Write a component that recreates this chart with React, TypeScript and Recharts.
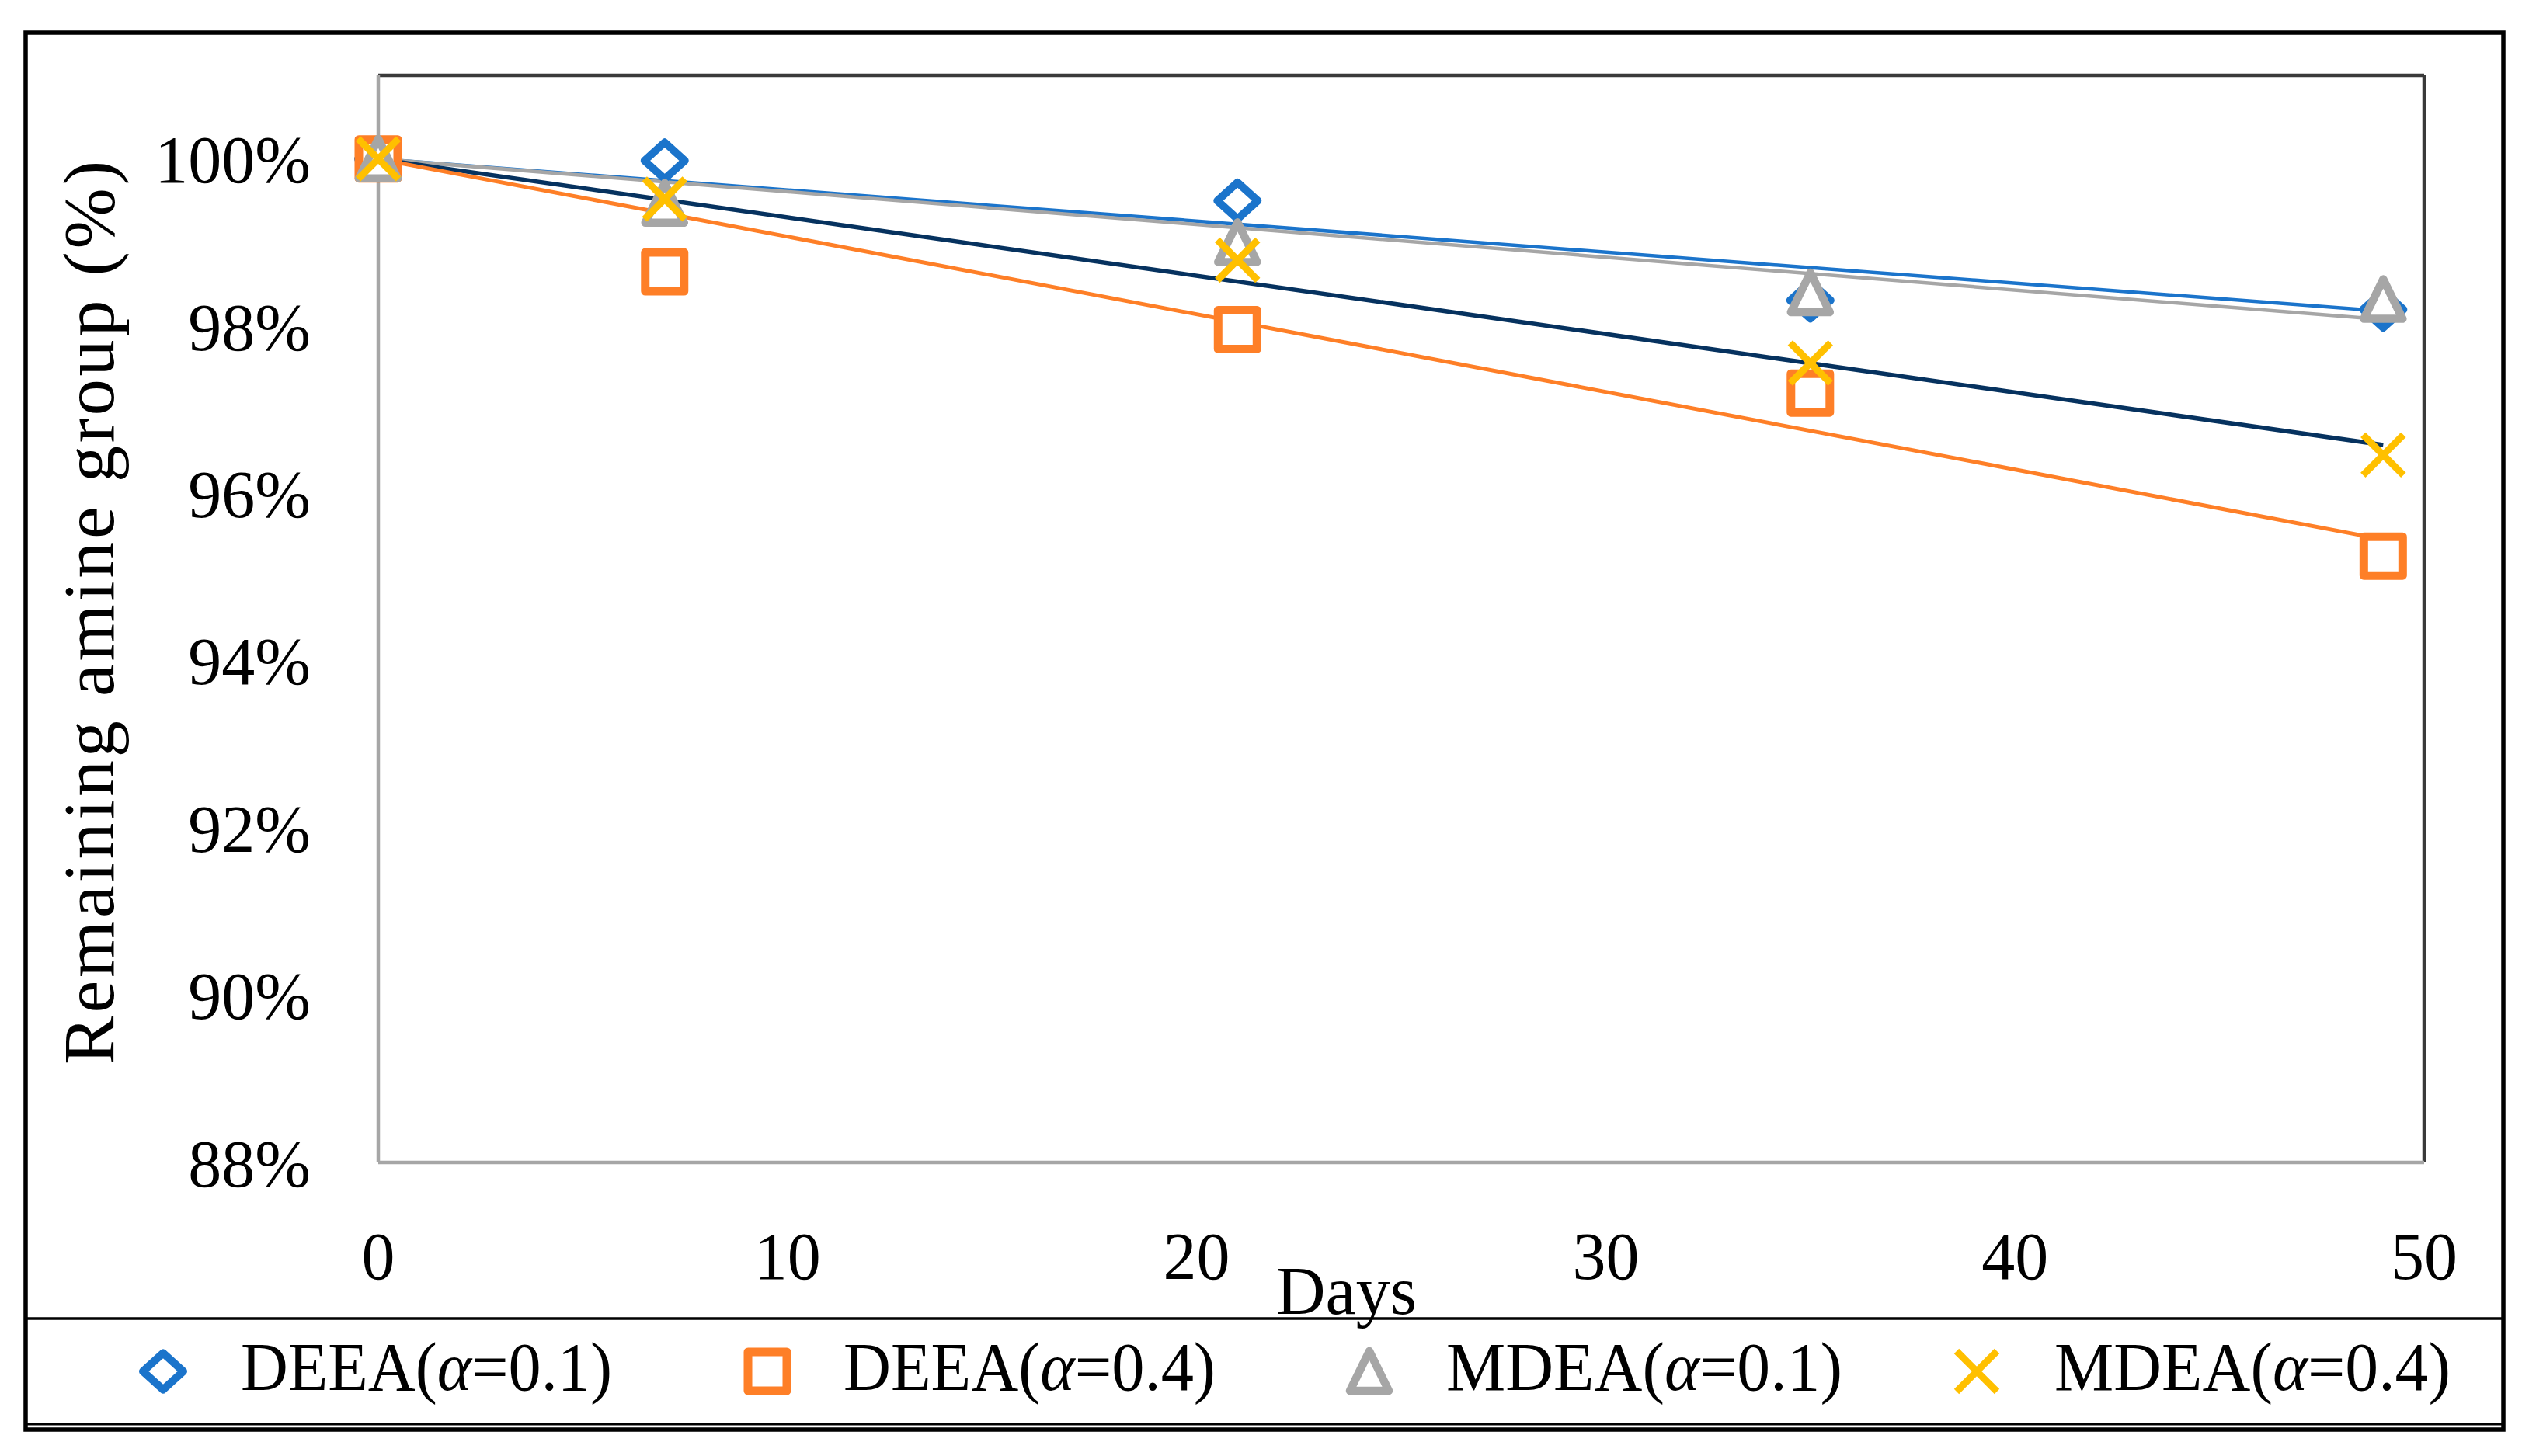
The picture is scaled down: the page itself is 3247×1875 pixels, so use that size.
import React from "react";
import { ComposedChart, Line, Scatter, XAxis, YAxis, ReferenceLine } from "recharts";

// measurements (days) and remaining amine group (%)
const days = [0, 7, 21, 35, 49];
const deea01 = [100, 99.98, 99.5, 98.31, 98.2];
const deea04 = [100, 98.65, 97.96, 97.2, 95.25];
const mdea01 = [100, 99.47, 99.0, 98.4, 98.32];
const mdea04 = [100, 99.52, 98.79, 97.56, 96.46];

// linear trendlines at their two ends
const trendDays = [0, 49];
const trendDeea01 = [100, 98.18];
const trendDeea04 = [100, 95.45];
const trendMdea01 = [100, 98.08];
const trendMdea04 = [100, 96.58];

const xTicks = [0, 10, 20, 30, 40, 50];
const yTicks = [88, 90, 92, 94, 96, 98, 100];

const legendAmine = ["DEEA", "DEEA", "MDEA", "MDEA"];
const legendAlpha = ["0.1", "0.4", "0.1", "0.4"];

const FONT = "'Liberation Serif', 'Times New Roman', serif";
const BLUE = "#1B74CB";
const ORANGE = "#FE7F27";
const GREY = "#A6A6A6";
const GOLD = "#FFC000";
const NAVY = "#06325F";

const toPoints = (xs: number[], ys: number[]) => xs.map((d, i) => ({ day: d, v: ys[i] }));

function Diamond({ cx, cy }: any) {
  return (
    <path
      d={`M${cx},${cy - 23.5} L${cx + 26},${cy} L${cx},${cy + 23.5} L${cx - 26},${cy} Z`}
      fill="#fff"
      stroke={BLUE}
      strokeWidth={10}
      strokeLinejoin="round"
    />
  );
}

function Square({ cx, cy }: any) {
  return (
    <rect x={cx - 25} y={cy - 25} width={50} height={50} fill="#fff" stroke={ORANGE} strokeWidth={11} strokeLinejoin="round" />
  );
}

function Triangle({ cx, cy }: any) {
  return (
    <path
      d={`M${cx},${cy - 26} L${cx + 25},${cy + 25} L${cx - 25},${cy + 25} Z`}
      fill="#fff"
      stroke={GREY}
      strokeWidth={10.5}
      strokeLinejoin="round"
    />
  );
}

function Cross({ cx, cy }: any) {
  return (
    <g stroke={GOLD} strokeWidth={9}>
      <line x1={cx - 26} y1={cy - 26} x2={cx + 26} y2={cy + 26} />
      <line x1={cx + 26} y1={cy - 26} x2={cx - 26} y2={cy + 26} />
    </g>
  );
}

const markers = [Diamond, Square, Triangle, Cross];
const legendMarkerX = [210, 988, 1763, 2545];
const legendTextX = [310, 1086, 1862, 2645];
const legendTextW = [478, 479, 510, 510];

export default function App() {
  return (
    <div style={{ position: "absolute", left: 0, top: 0, width: 3247, height: 1875, background: "#fff" }}>
      <ComposedChart
        width={3247}
        height={1875}
        margin={{ top: 97, right: 126, bottom: 278, left: 387 }}
        style={{ position: "absolute", left: 0, top: 0 }}
      >
        <XAxis
          type="number"
          dataKey="day"
          domain={[0, 50]}
          ticks={xTicks}
          height={100}
          tickLine={false}
          tickSize={0}
          tickMargin={89}
          axisLine={{ stroke: GREY, strokeWidth: 4.5 }}
          tick={{ fill: "#000", fontSize: 86, fontFamily: FONT }}
        />
        <YAxis
          type="number"
          domain={[88, 101]}
          ticks={yTicks}
          width={100}
          tickLine={false}
          tickSize={0}
          tickMargin={87}
          tickFormatter={(v) => `${v}%`}
          axisLine={{ stroke: GREY, strokeWidth: 4.5 }}
          tick={{ fill: "#000", fontSize: 86, fontFamily: FONT }}
        />
        <ReferenceLine y={101} stroke="#3a3a3a" strokeWidth={4.5} />
        <ReferenceLine x={50} stroke="#3a3a3a" strokeWidth={4.5} />

        <Line data={toPoints(trendDays, trendDeea01)} dataKey="v" stroke={BLUE} strokeWidth={4.5} dot={false} legendType="none" isAnimationActive={false} />
        <Line data={toPoints(trendDays, trendMdea01)} dataKey="v" stroke={GREY} strokeWidth={4.5} dot={false} legendType="none" isAnimationActive={false} />
        <Line data={toPoints(trendDays, trendMdea04)} dataKey="v" stroke={NAVY} strokeWidth={5.5} dot={false} legendType="none" isAnimationActive={false} />
        <Line data={toPoints(trendDays, trendDeea04)} dataKey="v" stroke={ORANGE} strokeWidth={5} dot={false} legendType="none" isAnimationActive={false} />

        <Scatter data={toPoints(days, deea01)} dataKey="v" shape={(p: any) => <Diamond {...p} />} isAnimationActive={false} />
        <Scatter data={toPoints(days, deea04)} dataKey="v" shape={(p: any) => <Square {...p} />} isAnimationActive={false} />
        <Scatter data={toPoints(days, mdea01)} dataKey="v" shape={(p: any) => <Triangle {...p} />} isAnimationActive={false} />
        <Scatter data={toPoints(days, mdea04)} dataKey="v" shape={(p: any) => <Cross {...p} />} isAnimationActive={false} />
      </ComposedChart>

      <svg width={3247} height={1875} style={{ position: "absolute", left: 0, top: 0, pointerEvents: "none" }}>
        <rect x={33} y={42} width={3190} height={1799} fill="none" stroke="#000" strokeWidth={5.5} />
        <line x1={33} y1={1698} x2={3223} y2={1698} stroke="#000" strokeWidth={3.5} />
        <line x1={33} y1={1834} x2={3223} y2={1834} stroke="#000" strokeWidth={2.8} />

        <text
          transform="translate(146,789) rotate(-90)"
          textAnchor="middle"
          fontFamily={FONT}
          fontSize={94}
          textLength={1164}
          lengthAdjust="spacing"
        >
          Remaining amine group (%)
        </text>
        <text x={1643} y={1692} fontFamily={FONT} fontSize={88} textLength={181} lengthAdjust="spacingAndGlyphs">
          Days
        </text>

        {legendAmine.map((name, i) => {
          const M = markers[i];
          return (
            <g key={i}>
              <M cx={legendMarkerX[i]} cy={1766} />
              <text
                x={legendTextX[i]}
                y={1790}
                fontFamily={FONT}
                fontSize={88}
                textLength={legendTextW[i]}
                lengthAdjust="spacingAndGlyphs"
              >
                {name}(<tspan fontStyle="italic">α</tspan>={legendAlpha[i]})
              </text>
            </g>
          );
        })}
      </svg>
    </div>
  );
}
